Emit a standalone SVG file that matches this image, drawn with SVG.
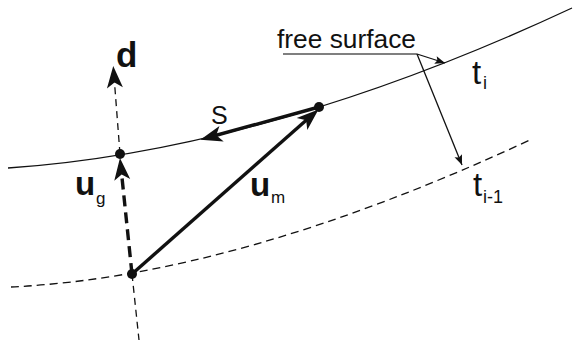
<svg xmlns="http://www.w3.org/2000/svg" width="573" height="344" viewBox="0 0 573 344">
<style>
.txt{font-family:"Liberation Sans",Arial,sans-serif;fill:#111}
.b{font-weight:bold}
.thick{stroke:#111;stroke-width:3.4;fill:none}
.thin{stroke:#111;stroke-width:1.3;fill:none}
.dot{fill:#111}
</style>
<defs>
<marker id="big" markerUnits="userSpaceOnUse" markerWidth="26" markerHeight="20" refX="13" refY="9" orient="auto" overflow="visible"><path d="M23,9 L1,1 L6.5,9 L1,17 Z" fill="#111"/></marker>
<marker id="small" markerUnits="userSpaceOnUse" markerWidth="12" markerHeight="10" refX="10" refY="5" orient="auto" overflow="visible"><path d="M10,5 L0,1 L2,5 L0,9 Z" fill="#111"/></marker>
</defs>
<g id="surface-ti">
<path class="thin" d="M8,168 Q268,150 572,8"/>
</g>
<g id="surface-ti-1">
<path class="thin" d="M11,287 Q238,276 532,139" stroke-dasharray="8,5"/>
</g>
<g id="connectors">
<path class="thin" d="M120,154 L114,76" stroke-dasharray="7,5" stroke-width="1.6" marker-end="url(#big)"/>
<path class="thin" d="M132,274 L139,340" stroke-dasharray="7,5" stroke-width="1.6"/>
<path class="thick" d="M132,274 L121,168" stroke-dasharray="11,6" marker-end="url(#big)"/>
<path class="thick" d="M132,274 L311,116" marker-end="url(#big)"/>
<path class="thick" d="M319,107 L210,137" marker-end="url(#big)"/>
<path d="M283,54 L417,54" stroke="#555" stroke-width="1.3" fill="none"/>
<path class="thin" d="M417,54 L445,63" marker-end="url(#small)"/>
<path class="thin" d="M417,54 L462,165" marker-end="url(#small)"/>
</g>
<g id="points">
<circle class="dot" cx="120" cy="154" r="5"/>
<circle class="dot" cx="319" cy="107" r="5"/>
<circle class="dot" cx="132" cy="274" r="5"/>
</g>
<g id="labels">
<text class="txt b" x="116" y="67" font-size="35">d</text>
<text class="txt" x="211" y="124" font-size="25">S</text>
<text class="txt b" x="75" y="195" font-size="33">u</text>
<text class="txt" x="96" y="204" font-size="17">g</text>
<text class="txt b" x="250" y="196" font-size="33">u</text>
<text class="txt" x="271" y="203" font-size="17">m</text>
<text class="txt" x="277" y="48" font-size="25" textLength="139" lengthAdjust="spacingAndGlyphs">free surface</text>
<text class="txt" x="472" y="84" font-size="33">t</text>
<text class="txt" x="483" y="89" font-size="18">i</text>
<text class="txt" x="473" y="196" font-size="33">t</text>
<text class="txt" x="483" y="203" font-size="18">i-1</text>
</g>
</svg>
